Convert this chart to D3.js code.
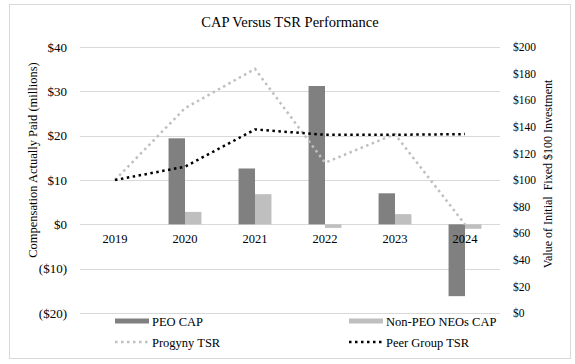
<!DOCTYPE html>
<html>
<head>
<meta charset="utf-8">
<script src="https://d3js.org/d3.v7.min.js"></script>
<style>
  body { margin: 0; background: #fff; }
  svg text { font-family: "Liberation Serif", "Times New Roman", serif; fill: #000; }
</style>
</head>
<body>
<div id="chart"></div>
<script>
// chart data
var years = ["2019", "2020", "2021", "2022", "2023", "2024"];
var peoCap = [null, 19.4, 12.6, 31.2, 7.0, -16.2];        // $ millions
var neoCap = [null, 2.8, 6.8, -0.8, 2.3, -1.0];          // $ millions
var progynyTsr = [100, 154, 183.5, 113, 134.5, 66.5];    // value of $100
var peerTsr = [100, 110, 138, 134, 134, 134.5];
var leftTicks = [-20, -10, 0, 10, 20, 30, 40];
var rightTicks = [0, 20, 40, 60, 80, 100, 120, 140, 160, 180, 200];

var W = 575, H = 364;
var plot = {left: 80, right: 500, top: 47, bottom: 313};
var serif = "Liberation Serif, Times New Roman, serif";

var svg = d3.select("#chart").append("svg")
  .attr("width", W).attr("height", H);

// outer frame
svg.append("rect")
  .attr("x", 9.5).attr("y", 4.5)
  .attr("width", 561).attr("height", 354)
  .attr("fill", "#fff").attr("stroke", "#d9d9d9");

svg.append("text")
  .attr("x", 290).attr("y", 27)
  .attr("text-anchor", "middle")
  .attr("font-family", serif)
  .attr("font-size", "14.5px")
  .text("CAP Versus TSR Performance");

var yL = d3.scaleLinear().domain([-20, 40]).range([plot.bottom, plot.top]);
var yR = d3.scaleLinear().domain([0, 200]).range([plot.bottom, plot.top]);
var x0 = d3.scaleBand().domain(years).range([plot.left, plot.right])
  .paddingInner(0.53).paddingOuter(0.265);
var x1 = d3.scaleBand().domain(["peo", "neo"]).range([0, x0.bandwidth()]);

// gridlines
svg.append("g").selectAll("line")
  .data(leftTicks).enter().append("line")
  .attr("x1", plot.left).attr("x2", plot.right)
  .attr("y1", function (d) { return Math.round(yL(d)) + 0.5; })
  .attr("y2", function (d) { return Math.round(yL(d)) + 0.5; })
  .attr("stroke", "#d9d9d9").attr("stroke-width", 1);

// left axis
var fmtL = function (d) { return d < 0 ? "($" + (-d) + ")" : "$" + d; };
var axL = svg.append("g").attr("transform", "translate(" + (plot.left - 13) + ",0)")
  .call(d3.axisLeft(yL).tickValues(leftTicks).tickFormat(fmtL).tickSize(0).tickPadding(0))
  .attr("font-family", serif).attr("font-size", "13px");
axL.select(".domain").remove();

// right axis
var axR = svg.append("g").attr("transform", "translate(" + (plot.right + 13) + ",0)")
  .call(d3.axisRight(yR).tickValues(rightTicks).tickFormat(function (d) { return "$" + d; })
    .tickSize(0).tickPadding(0))
  .attr("font-family", serif).attr("font-size", "11.5px");
axR.select(".domain").remove();

// axis titles
svg.append("text")
  .attr("transform", "translate(37,160) rotate(-90)")
  .attr("text-anchor", "middle")
  .attr("font-family", serif)
  .attr("font-size", "12.5px")
  .text("Compensation Actually Paid (millions)");
svg.append("text")
  .attr("transform", "translate(552,174) rotate(-90)")
  .attr("text-anchor", "middle")
  .attr("font-family", serif)
  .attr("font-size", "12px")
  .style("white-space", "pre")
  .text("Value of Initial  Fixed $100 Investment");

// bars
var barSeries = [
  {key: "peo", values: peoCap, color: "#808080"},
  {key: "neo", values: neoCap, color: "#bfbfbf"}
];
barSeries.forEach(function (s) {
  svg.append("g").selectAll("rect")
    .data(years.map(function (y, i) { return {year: y, v: s.values[i]}; })
      .filter(function (d) { return d.v !== null; }))
    .enter().append("rect")
    .attr("x", function (d) { return x0(d.year) + x1(s.key); })
    .attr("width", x1.bandwidth())
    .attr("y", function (d) { return yL(Math.max(0, d.v)); })
    .attr("height", function (d) { return Math.abs(yL(d.v) - yL(0)); })
    .attr("fill", s.color);
});

// category labels
svg.append("g").selectAll("text")
  .data(years).enter().append("text")
  .attr("x", function (d) { return x0(d) + x0.bandwidth() / 2; })
  .attr("y", 243)
  .attr("text-anchor", "middle")
  .attr("font-family", serif)
  .attr("font-size", "12.5px")
  .text(function (d) { return d; });

// TSR lines
var lineSeries = [
  {values: progynyTsr, color: "#bfbfbf"},
  {values: peerTsr, color: "#000000"}
];
var line = d3.line()
  .x(function (d, i) { return x0(years[i]) + x0.bandwidth() / 2; })
  .y(function (d) { return yR(d); });
lineSeries.forEach(function (s) {
  svg.append("path")
    .attr("d", line(s.values))
    .attr("fill", "none")
    .attr("stroke", s.color)
    .attr("stroke-width", 2.5)
    .attr("stroke-dasharray", "2.5,3.5");
});

// legend
var legend = [
  {label: "PEO CAP", type: "bar", color: "#808080", x: 115, y: 321},
  {label: "Non-PEO NEOs CAP", type: "bar", color: "#bfbfbf", x: 349, y: 321},
  {label: "Progyny TSR", type: "line", color: "#bfbfbf", x: 115, y: 342},
  {label: "Peer Group TSR", type: "line", color: "#000000", x: 349, y: 342}
];
legend.forEach(function (d) {
  if (d.type === "bar") {
    svg.append("rect").attr("x", d.x).attr("y", d.y - 2.5)
      .attr("width", 34).attr("height", 5).attr("fill", d.color);
  } else {
    svg.append("line").attr("x1", d.x).attr("x2", d.x + 34)
      .attr("y1", d.y).attr("y2", d.y)
      .attr("stroke", d.color).attr("stroke-width", 2.5)
      .attr("stroke-dasharray", "2.5,3.5");
  }
  svg.append("text").attr("x", d.x + 37).attr("y", d.y + 4.5)
    .attr("font-family", serif)
    .attr("font-size", "12.5px").text(d.label);
});
</script>
</body>
</html>
